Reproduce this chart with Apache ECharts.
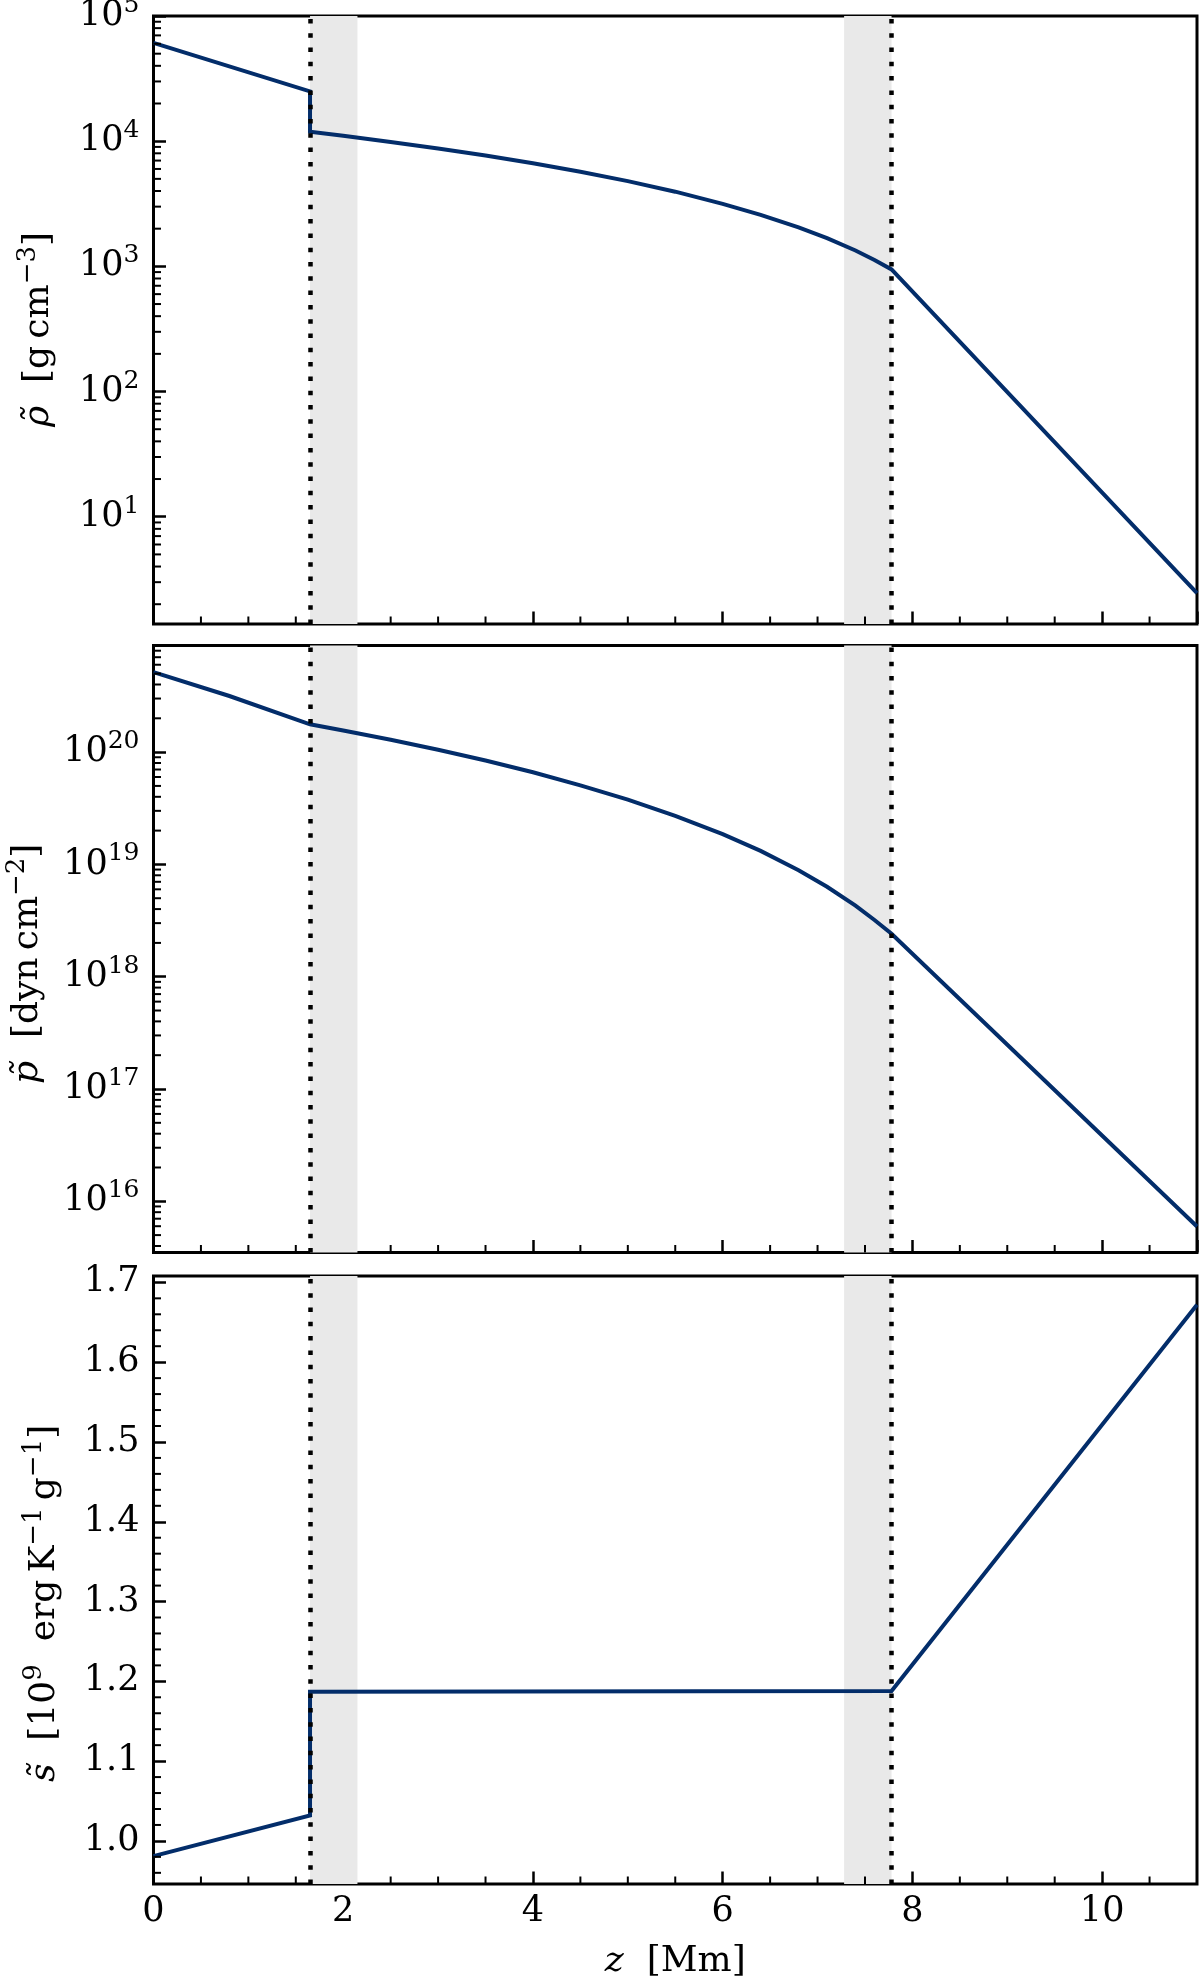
<!DOCTYPE html>
<html><head><meta charset="utf-8">
<script src="https://cdn.jsdelivr.net/npm/echarts@6/dist/echarts.min.js"></script>
<style>html,body{margin:0;padding:0;background:#fff}#c{width:1200px;height:1981px}</style>
</head><body><div id="c"></div>
<script>
// ---- data ----
const zRho = [0, 1.65, 1.65, 2.0, 2.5, 3.0, 3.5, 4.0, 4.5, 5.0, 5.5, 6.0, 6.4, 6.8, 7.1, 7.4, 7.6, 7.78, 11];
const rho  = [6.1e4, 2.5e4, 11890, 11040, 9860, 8750, 7670, 6670, 5700, 4800, 3950, 3160, 2580, 2050, 1680, 1340, 1125, 946, 2.45];

const zP   = [0, 0.8, 1.65, 2.0, 2.5, 3.0, 3.5, 4.0, 4.5, 5.0, 5.5, 6.0, 6.4, 6.8, 7.1, 7.4, 7.6, 7.78, 11];
const pres = [5.15e20, 3.16e20, 1.77e20, 1.56e20, 1.29e20, 1.05e20, 8.41e19, 6.61e19, 5.06e19, 3.77e19, 2.71e19, 1.86e19, 1.32e19, 8.87e18, 6.32e18, 4.29e18, 3.20e18, 2.41e18, 5.96e15];

const zS   = [0, 1.65, 1.65, 7.78, 11];
const ent  = [0.981, 1.032, 1.187, 1.188, 1.672];

const boundaries = [1.65, 7.78];
const bands = [[1.65, 2.15], [7.28, 7.78]];

const xTickLabels = [0, 2, 4, 6, 8, 10];
const rhoTickLabels = [1e1, 1e2, 1e3, 1e4, 1e5];
const pTickLabels = [1e16, 1e17, 1e18, 1e19, 1e20];
const sTickLabels = [1.0, 1.1, 1.2, 1.3, 1.4, 1.5, 1.6, 1.7];

const xRange = [0, 11];
const rhoRange = [1.39, 1e5];
const pRange = [3.5e15, 8.9e20];
const sRange = [0.946, 1.708];

const yNames = [
  '{i|\u03C1\u0303}{t|  [g\u2009cm}{s|\u22123}{t|]}',
  '{i|p\u0303}{t|  [dyn\u2009cm}{s|\u22122}{t|]}',
  '{i|s\u0303}{t|  [10}{s|9}{t|  erg\u2009K}{s|\u22121}{t|\u2009g}{s|\u22121}{t|]}'
];

// ---- minor tick positions ----
const xMinor = [];
for (let k = 1; k < 22; k++) if (k % 4 !== 0) xMinor.push(k * 0.5);
function logMinor(lo, hi) {
  const out = [];
  for (let d = Math.floor(Math.log10(lo)); d <= Math.ceil(Math.log10(hi)); d++)
    for (let m = 2; m <= 9; m++) { const v = m * Math.pow(10, d); if (v > lo && v < hi) out.push(v); }
  return out;
}
const rhoMinor = logMinor(rhoRange[0], rhoRange[1]);
const pMinor = logMinor(pRange[0], pRange[1]);
const sMinor = [];
for (let k = 48; k <= 85; k++) { const v = k * 0.02; if (k % 5 !== 0 && v > sRange[0] && v < sRange[1]) sMinor.push(+v.toFixed(2)); }

const FONT = 'DejaVu Serif';
const BLUE = '#032d6a';
const FS = 35;
const FSS = 25;

const gridBoxes = [
  { left: 153.5, right: 3, top: 16, height: 608 },
  { left: 153.5, right: 3, top: 645.5, height: 607 },
  { left: 153.5, right: 3, top: 1276, height: 608 }
];
const grids = gridBoxes.map(g => Object.assign({}, g, { show: true, borderColor: '#000', borderWidth: 3, backgroundColor: 'transparent', containLabel: false, outerBoundsMode: 'none' }));

const richBase = {
  b: { fontFamily: FONT, fontSize: FS, color: '#000', lineHeight: 46 },
  t: { fontFamily: FONT, fontSize: FS, color: '#000', lineHeight: 46 },
  i: { fontFamily: FONT, fontSize: FS, color: '#000', fontStyle: 'italic', lineHeight: 46 },
  s: { fontFamily: FONT, fontSize: FSS, color: '#000', lineHeight: 28, verticalAlign: 'top' }
};
const NFS = 36;
const richName = {
  t: { fontFamily: FONT, fontSize: NFS, color: '#000', lineHeight: 48 },
  i: { fontFamily: FONT, fontSize: NFS, color: '#000', fontStyle: 'italic', lineHeight: 48 },
  s: { fontFamily: FONT, fontSize: 26, color: '#000', lineHeight: 29, verticalAlign: 'top' }
};

function near(list, v) { return list.some(t => Math.abs(t - v) <= 1e-9 * Math.max(1, Math.abs(t))); }

function xAxis(i) {
  const a = {
    type: 'value', gridIndex: i, min: xRange[0], max: xRange[1], interval: 2,
    axisLine: { show: false }, splitLine: { show: false },
    axisTick: { show: true, inside: true, length: 12.5, lineStyle: { color: '#000', width: 2.5 } },
    axisLabel: {
      show: i === 2, fontFamily: FONT, fontSize: FS, color: '#000', margin: 10,
      showMinLabel: true, showMaxLabel: false,
      formatter: v => near(xTickLabels, v) ? String(v) : ''
    }
  };
  if (i === 2) {
    a.name = '{i|z}{t|  [Mm]}';
    a.nameLocation = 'middle';
    a.nameGap = 54;
    a.nameTextStyle = { rich: richName };
  }
  return a;
}

function logAxis(i, range, labels) {
  return {
    type: 'log', logBase: 10, gridIndex: i, min: range[0], max: range[1],
    axisLine: { show: false }, splitLine: { show: false },
    axisTick: { show: true, inside: true, length: 12.5, lineStyle: { color: '#000', width: 2.5 } },
    axisLabel: {
      fontFamily: FONT, fontSize: FS, color: '#000', margin: 14,
      showMinLabel: false, showMaxLabel: near(labels, range[1]),
      formatter: v => {
        if (!near(labels, v)) return '';
        return '{b|10}{s|' + Math.round(Math.log10(v)) + '}';
      },
      rich: richBase
    }
  };
}

const yAxes = [
  logAxis(0, rhoRange, rhoTickLabels),
  logAxis(1, pRange, pTickLabels),
  {
    type: 'value', gridIndex: 2, min: sRange[0], max: sRange[1], splitNumber: 7,
    axisLine: { show: false }, splitLine: { show: false },
    axisTick: { show: true, inside: true, length: 12.5, lineStyle: { color: '#000', width: 2.5 } },
    axisLabel: {
      fontFamily: FONT, fontSize: FS, color: '#000', margin: 14,
      showMinLabel: false, showMaxLabel: false,
      formatter: v => near(sTickLabels, v) ? v.toFixed(1) : ''
    }
  }
];

function curve(i, zs, vs) {
  return {
    type: 'line', xAxisIndex: i, yAxisIndex: i, z: 3,
    data: zs.map((z, k) => [z, vs[k]]),
    symbol: 'none', showSymbol: false, silent: true,
    lineStyle: { color: BLUE, width: 4, join: 'miter' }
  };
}
function bandSeries(i) {
  return {
    type: 'line', xAxisIndex: i, yAxisIndex: i, z: 1, data: [], silent: true,
    markArea: { silent: true, itemStyle: { color: '#e9e9e9' },
      data: bands.map(b => [{ xAxis: b[0] }, { xAxis: b[1] }]) }
  };
}
function dotSeries(i) {
  return {
    type: 'line', xAxisIndex: i, yAxisIndex: i, z: 5, data: [], silent: true,
    markLine: { silent: true, symbol: ['none', 'none'], label: { show: false },
      lineStyle: { color: '#000', width: 4.5, type: [4.5, 9.8], cap: 'butt', opacity: 1 },
      emphasis: { disabled: true },
      data: boundaries.map(b => ({ xAxis: b })) }
  };
}
function minorXSeries(i, yRef) {
  return {
    type: 'custom', xAxisIndex: i, yAxisIndex: i, z: 6, silent: true,
    data: xMinor.map(v => [v, yRef]),
    renderItem: (params, api) => {
      const cs = params.coordSys;
      const px = api.coord([api.value(0), api.value(1)])[0];
      const yb = cs.y + cs.height;
      return { type: 'line', shape: { x1: px, y1: yb, x2: px, y2: yb - 7.5 }, style: { stroke: '#000', lineWidth: 2 } };
    }
  };
}
function minorYSeries(i, vals) {
  return {
    type: 'custom', xAxisIndex: i, yAxisIndex: i, z: 6, silent: true,
    data: vals.map(v => [xRange[0], v]),
    renderItem: (params, api) => {
      const cs = params.coordSys;
      const py = api.coord([api.value(0), api.value(1)])[1];
      return { type: 'line', shape: { x1: cs.x, y1: py, x2: cs.x + 7.5, y2: py }, style: { stroke: '#000', lineWidth: 2 } };
    }
  };
}

// y-axis titles, read bottom-to-top, starting at the reference positions
const nameX = [39, 28, 45];
const nameStartY = [427, 1084, 1782];
const graphics = yNames.map((txt, i) => ({
  type: 'text', silent: true, rotation: Math.PI / 2,
  x: nameX[i], y: nameStartY[i],
  style: { text: txt, rich: richName, align: 'left', verticalAlign: 'middle', fill: '#000' }
}));

const chart = echarts.init(document.getElementById('c'), null, { renderer: 'canvas' });
chart.setOption({
  animation: false,
  backgroundColor: '#fff',
  grid: grids,
  xAxis: [xAxis(0), xAxis(1), xAxis(2)],
  yAxis: yAxes,
  graphic: graphics,
  series: [
    bandSeries(0), bandSeries(1), bandSeries(2),
    curve(0, zRho, rho), curve(1, zP, pres), curve(2, zS, ent),
    dotSeries(0), dotSeries(1), dotSeries(2),
    minorXSeries(0, rhoRange[0]), minorXSeries(1, pRange[0]), minorXSeries(2, sRange[0]),
    minorYSeries(0, rhoMinor), minorYSeries(1, pMinor), minorYSeries(2, sMinor)
  ]
});
</script></body></html>
